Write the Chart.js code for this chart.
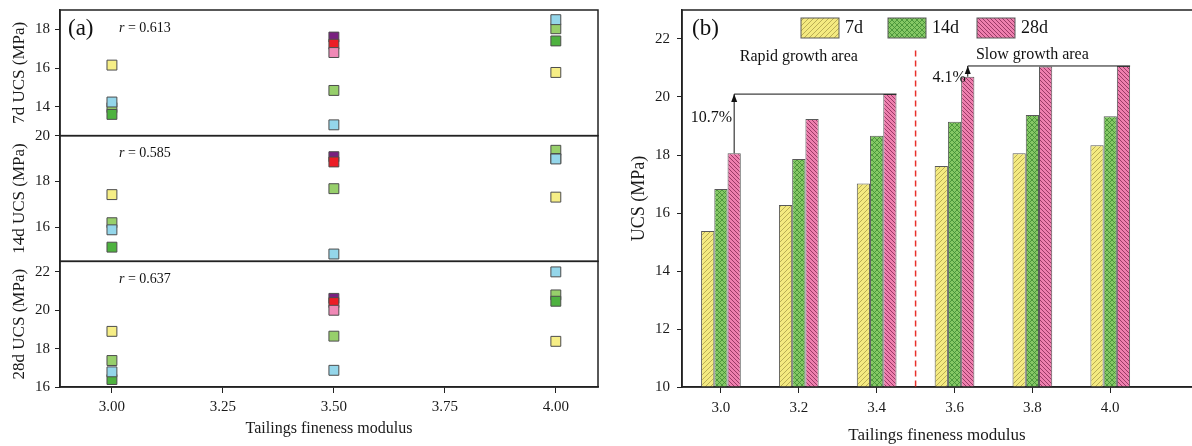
<!DOCTYPE html>
<html>
<head>
<meta charset="utf-8">
<script src="https://cdn.jsdelivr.net/npm/chart.js@4.4.0/dist/chart.umd.min.js"></script>
<style>
  html, body { margin: 0; padding: 0; background: #fff; }
  #boxA { position: absolute; left: 0; top: 0; }
  #boxB { position: absolute; left: 612px; top: 0; }
</style>
</head>
<body>
<canvas id="boxA" width="612" height="446"></canvas>
<canvas id="boxB" width="580" height="446"></canvas>
<script>
// ---- panel (a): UCS vs fineness modulus, one row per age ----
const fineness = [3.00, 3.50, 4.00];
const finenessTicks = [3.00, 3.25, 3.50, 3.75, 4.00];
const sampleColors = ['#f6ee86', '#97cf6b', '#4eb23f', '#94d6ea', '#f089b6', '#ec1d26', '#79207f'];
const drawOrder = [6, 5, 4, 0, 1, 2, 3]; // light blue on top, yellow at the back

// rows: yellow, light green, dark green, light blue, pink, red, purple
const ucs7d = [
    [16.15, null, 15.77],
    [13.95, 14.84, 18.03],
    [13.60, null, 17.40],
    [14.24, 13.06, 18.50],
    [null, 16.80, null],
    [null, 17.23, null],
    [null, 17.60, null]
];
const ucs14d = [
    [17.42, null, 17.31],
    [16.19, 17.68, 19.36],
    [15.12, null, 19.00],
    [15.88, 14.82, 18.98],
    [null, null, null],
    [null, 18.85, null],
    [null, 19.08, null]
];
const ucs28d = [
    [18.90, null, 18.38],
    [17.38, 18.65, 20.80],
    [16.39, null, 20.47],
    [16.79, 16.87, 22.00],
    [null, 20.00, null],
    [null, 20.40, null],
    [null, 20.62, null]
];
const corrR = ['0.613', '0.585', '0.637'];
const yTicks7d = [14, 16, 18];
const yTicks14d = [16, 18, 20];
const yTicks28d = [16, 18, 20, 22];

// ---- panel (b): mean UCS bars ----
const modulus = [3.0, 3.2, 3.4, 3.6, 3.8, 4.0];
const barUcs7d = [15.38, 16.28, 17.02, 17.62, 18.06, 18.34];
const barUcs14d = [16.83, 17.86, 18.66, 19.15, 19.38, 19.34];
const barUcs28d = [18.06, 19.24, 20.10, 20.70, 21.05, 21.07];
const yTicksB = [10, 12, 14, 16, 18, 20, 22];

const SERIF = '"Liberation Serif", "Times New Roman", serif';
Chart.defaults.font.family = SERIF;
Chart.defaults.color = '#1a1a1a';

function fixedTicks(values) {
    return axis => { axis.ticks = values.map(v => ({ value: v })); };
}

// fixed axis thickness, and no extra room for the end labels
function fitY(width) {
    return axis => { axis.width = width; axis.paddingTop = 0; axis.paddingBottom = 0; };
}

// ---------- panel (a) ----------
const panelRows = [
    { id: 'y28', rows: ucs28d, ticks: yTicks28d, min: 16, max: 22.55, title: '28d UCS (MPa)' },
    { id: 'y14', rows: ucs14d, ticks: yTicks14d, min: 14.5, max: 20, title: '14d UCS (MPa)' },
    { id: 'y7', rows: ucs7d, ticks: yTicks7d, min: 12.5, max: 19, title: '7d UCS (MPa)' }
];

const scatterSets = [];
panelRows.forEach(p => {
    p.rows.forEach((vals, k) => {
        const pts = [];
        vals.forEach((v, i) => { if (v !== null) pts.push({ x: fineness[i], y: v }); });
        scatterSets.push({
            label: p.id + '-' + k,
            data: pts,
            yAxisID: p.id,
            order: drawOrder[k],
            pointStyle: 'rect',
            pointRadius: 7,
            backgroundColor: sampleColors[k],
            borderColor: '#4d4d4d',
            borderWidth: 1,
            showLine: false
        });
    });
});

const scalesA = {
    x: {
        type: 'linear',
        min: 2.883, max: 4.095,
        afterBuildTicks: fixedTicks(finenessTicks),
        afterFit: axis => { axis.height = 59; },
        ticks: { font: { size: 15 }, padding: 5, callback: v => v.toFixed(2), maxRotation: 0 },
        grid: { drawOnChartArea: false, tickLength: 6, color: '#222' },
        border: { color: '#222', width: 1.5 },
        title: { display: true, text: 'Tailings fineness modulus', font: { size: 16 }, padding: { top: 0, bottom: 8 } }
    }
};
panelRows.forEach(p => {
    scalesA[p.id] = {
        type: 'linear',
        position: 'left',
        stack: 'ages',
        stackWeight: 1,
        min: p.min, max: p.max,
        afterBuildTicks: fixedTicks(p.ticks),
        afterFit: fitY(60),
        ticks: { font: { size: 15 }, padding: 5 },
        grid: { drawOnChartArea: false, tickLength: 5, color: '#222' },
        border: { color: '#222', width: 1.5 },
        title: { display: true, text: p.title, font: { size: 17 }, padding: { top: 9, bottom: 0 } }
    };
});

const framesA = {
    id: 'framesA',
    afterDatasetsDraw(chart) {
        const { ctx, chartArea: a } = chart;
        ctx.save();
        ctx.strokeStyle = '#222';
        ctx.lineWidth = 1.5;
        panelRows.forEach(p => {
            const s = chart.scales[p.id];
            ctx.strokeRect(a.left, s.top, a.right - a.left, s.bottom - s.top);
        });
        ctx.fillStyle = '#111';
        ctx.textBaseline = 'middle';
        ctx.font = '23px ' + SERIF;
        ctx.fillText('(a)', a.left + 8, a.top + 19);
        // correlation labels, top row first
        ['y7', 'y14', 'y28'].forEach((id, i) => {
            const s = chart.scales[id];
            const x0 = a.left + 59, y0 = s.top + 18;
            ctx.font = 'italic 14px ' + SERIF;
            ctx.fillText('r', x0, y0);
            const w = ctx.measureText('r').width;
            ctx.font = '14px ' + SERIF;
            ctx.fillText(' = ' + corrR[i], x0 + w, y0);
        });
        ctx.restore();
    }
};

new Chart(document.getElementById('boxA'), {
    type: 'scatter',
    data: { datasets: scatterSets },
    options: {
        responsive: false,
        animation: false,
        layout: { padding: { left: 0, top: 10, right: 14, bottom: 0 } },
        plugins: { legend: { display: false }, tooltip: { enabled: false } },
        scales: scalesA
    },
    plugins: [framesA]
});

// ---------- panel (b) ----------
function hatch(bg, line, kind, step, lw) {
    const c = document.createElement('canvas');
    c.width = c.height = step;
    const g = c.getContext('2d');
    g.fillStyle = bg;
    g.fillRect(0, 0, step, step);
    g.strokeStyle = line;
    g.lineWidth = lw;
    const fwd = () => {
        g.beginPath();
        g.moveTo(-1, step + 1); g.lineTo(step + 1, -1);
        g.moveTo(-1, 1); g.lineTo(1, -1);
        g.moveTo(step - 1, step + 1); g.lineTo(step + 1, step - 1);
        g.stroke();
    };
    const back = () => {
        g.beginPath();
        g.moveTo(-1, -1); g.lineTo(step + 1, step + 1);
        g.moveTo(step - 1, -1); g.lineTo(step + 1, 1);
        g.moveTo(-1, step - 1); g.lineTo(1, step + 1);
        g.stroke();
    };
    if (kind === 'fwd' || kind === 'cross') fwd();
    if (kind === 'back' || kind === 'cross') back();
    return g.createPattern(c, 'repeat');
}

const fill7d = hatch('#f4ea80', '#b9ad55', 'fwd', 5, 1);
const fill14d = hatch('#86c865', '#3f8a33', 'cross', 5, 0.8);
const fill28d = hatch('#ee7fae', '#9a3a66', 'back', 4, 1);

function barSet(label, vals, fill) {
    return {
        label: label,
        data: modulus.map((m, i) => ({ x: m, y: vals[i] })),
        backgroundColor: fill,
        borderColor: '#5a5a5a',
        borderWidth: 1,
        categoryPercentage: 0.51,
        barPercentage: 1.0
    };
}

function growthArrow(ctx, from, to, text, textY) {
    const x0 = from.x, y0 = from.y, y1 = to.y, x1 = to.x + to.width / 2;
    ctx.beginPath();
    ctx.moveTo(x0, y0); ctx.lineTo(x0, y1); ctx.lineTo(x1, y1);
    ctx.stroke();
    ctx.beginPath();
    ctx.moveTo(x0, y1); ctx.lineTo(x0 - 3, y1 + 8); ctx.lineTo(x0 + 3, y1 + 8); ctx.closePath();
    ctx.fill();
    ctx.textAlign = 'right';
    ctx.fillText(text, x0 - 2, textY);
}

const annotB = {
    id: 'annotB',
    afterDatasetsDraw(chart) {
        const { ctx, chartArea: a, scales: { x, y } } = chart;
        ctx.save();
        ctx.strokeStyle = '#222';
        ctx.lineWidth = 1.5;
        // frame runs off the right edge of the figure, so no right side
        ctx.beginPath();
        ctx.moveTo(chart.width, a.top);
        ctx.lineTo(a.left, a.top);
        ctx.lineTo(a.left, a.bottom);
        ctx.lineTo(chart.width, a.bottom);
        ctx.stroke();

        // boundary between the two growth areas
        const xd = x.getPixelForValue(3.5);
        ctx.strokeStyle = '#e8302c';
        ctx.setLineDash([6, 4]);
        ctx.beginPath();
        ctx.moveTo(xd, y.getPixelForValue(21.6));
        ctx.lineTo(xd, a.bottom);
        ctx.stroke();
        ctx.setLineDash([]);

        ctx.fillStyle = '#111';
        ctx.strokeStyle = '#111';
        ctx.lineWidth = 1;
        ctx.textBaseline = 'middle';
        ctx.font = '16px ' + SERIF;
        const pink = chart.getDatasetMeta(2).data;
        growthArrow(ctx, pink[0], pink[2], '10.7%', y.getPixelForValue(19.3));
        growthArrow(ctx, pink[3], pink[5], '4.1%', y.getPixelForValue(20.65));

        ctx.textAlign = 'center';
        ctx.fillText('Rapid growth area', x.getPixelForValue(3.2), y.getPixelForValue(21.4));
        ctx.fillText('Slow growth area', x.getPixelForValue(3.8), y.getPixelForValue(21.45));

        ctx.textAlign = 'left';
        ctx.font = '23px ' + SERIF;
        ctx.fillText('(b)', a.left + 10, a.top + 19);

        // legend
        ctx.font = '18px ' + SERIF;
        const legendX = [189, 276, 365];
        chart.data.datasets.forEach((ds, i) => {
            const lx = legendX[i], ly = a.top + 8;
            ctx.fillStyle = ds.backgroundColor;
            ctx.fillRect(lx, ly, 38, 20);
            ctx.strokeStyle = '#5a5a5a';
            ctx.strokeRect(lx, ly, 38, 20);
            ctx.fillStyle = '#111';
            ctx.fillText(ds.label, lx + 44, ly + 10);
        });
        ctx.restore();
    }
};

new Chart(document.getElementById('boxB'), {
    type: 'bar',
    data: {
        datasets: [
            barSet('7d', barUcs7d, fill7d),
            barSet('14d', barUcs14d, fill14d),
            barSet('28d', barUcs28d, fill28d)
        ]
    },
    options: {
        responsive: false,
        animation: false,
        layout: { padding: { left: 0, top: 10, right: 0, bottom: 0 } },
        plugins: { legend: { display: false }, tooltip: { enabled: false } },
        scales: {
            x: {
                type: 'linear',
                min: 2.9, max: 4.21,
                offset: false,
                afterBuildTicks: fixedTicks(modulus),
                afterFit: axis => { axis.height = 59; },
                ticks: { font: { size: 15 }, padding: 6, callback: v => v.toFixed(1), maxRotation: 0 },
                grid: { drawOnChartArea: false, tickLength: 6, color: '#222', offset: false },
                border: { color: '#222', width: 1.5 },
                title: { display: true, text: 'Tailings fineness modulus', font: { size: 17 }, padding: { top: 0, bottom: 0 } }
            },
            y: {
                min: 10, max: 23,
                afterBuildTicks: fixedTicks(yTicksB),
                afterFit: fitY(70),
                ticks: { font: { size: 15 }, padding: 7 },
                grid: { drawOnChartArea: false, tickLength: 5, color: '#222' },
                border: { color: '#222', width: 1.5 },
                title: { display: true, text: 'UCS (MPa)', font: { size: 18 }, padding: { top: 16, bottom: 0 } }
            }
        }
    },
    plugins: [annotB]
});
</script>
</body>
</html>
